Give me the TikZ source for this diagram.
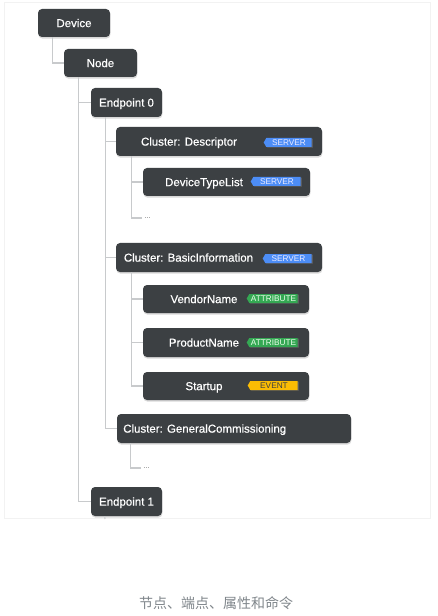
\documentclass[tikz,border=0pt]{standalone}
\usepackage{fontspec}
\setmainfont{Liberation Sans}
\newfontfamily\boxfont{Liberation Sans}[FakeBold=0.6]
\newfontfamily\cjkfont{Noto Sans CJK SC}
\usetikzlibrary{shapes.symbols,shadows}
\definecolor{boxgray}{HTML}{3C4043}
\definecolor{linegray}{HTML}{C8CACC}
\definecolor{tagblue}{HTML}{4C8DF6}
\definecolor{taggreen}{HTML}{34A853}
\definecolor{tagyellow}{HTML}{FBBC04}
\definecolor{captiongray}{HTML}{80868B}
\begin{document}
\begin{tikzpicture}[x=0.75pt,y=-0.75pt,
  box/.style={rectangle, rounded corners=3pt, fill=boxgray, inner sep=0pt,
    drop shadow={opacity=0.3, shadow xshift=0.3pt, shadow yshift=-1.2pt}},
  boxtext/.style={text=white, font=\boxfont\fontsize{8.6}{10}\selectfont,
    text height=6.2pt, text depth=0pt},
  lbl/.style={inner sep=0pt, text=white, font=\boxfont\fontsize{8.6}{10}\selectfont,
    text height=6.2pt, text depth=0pt},
  conn/.style={draw=linegray, line width=0.8pt},
  tag/.style={signal, signal to=west, signal from=nowhere, signal pointer angle=120, inner sep=0pt,
    minimum height=6.75pt, font=\fontsize{6.2}{6.5}\selectfont,
    text height=4.5pt, text depth=0pt,
    drop shadow={opacity=0.45, shadow xshift=0.8pt, shadow yshift=-0.4pt}},
  server/.style={tag, fill=tagblue, text=blue!8},
  attr/.style={tag, fill=taggreen, text=green!8},
  event/.style={tag, fill=tagyellow, text=boxgray},
  dots/.style={anchor=west, inner sep=1.5pt, text=gray, font=\fontsize{6}{6}\selectfont}
]
\useasboundingbox (0,0) rectangle (437,616);
\fill[white] (0,0) rectangle (437,616);
% card
\fill[white, draw=black!5, drop shadow={opacity=0.12, shadow xshift=0pt, shadow yshift=-0.8pt}]
  (4,2) rectangle (430,518);

% boxes
\node[box, boxtext, minimum width=54pt, minimum height=21pt] (dev) at (74,23) {Device};
\node[box, boxtext, minimum width=54.75pt, minimum height=21pt] (nod) at (100.5,63) {Node};
\node[box, boxtext, minimum width=53.25pt, minimum height=21.75pt] (ep0) at (126.5,102.5) {Endpoint 0};

\node[box, minimum width=154.5pt, minimum height=21.75pt] (desc) at (219,141.5) {};
\node[lbl] (desct) at (189,141.5) {Cluster: Descriptor};
\node[server, minimum width=36pt] (desctag) at (289,142.5) {SERVER};

\node[box, minimum width=125.25pt, minimum height=21pt] (dtl) at (226.5,182) {};
\node[lbl] (dtlt) at (204,182) {DeviceTypeList};
\node[server, minimum width=37.5pt] (dtltag) at (277,181.5) {SERVER};
\node[dots] (dots1) at (142,218) {...};

\node[box, minimum width=154.5pt, minimum height=21.75pt] (basic) at (219,257.5) {};
\node[lbl] (basict) at (188.5,257.5) {Cluster: BasicInformation};
\node[server, minimum width=36.75pt] (basictag) at (288.5,258.5) {SERVER};

\node[box, minimum width=124.5pt, minimum height=21pt] (vend) at (226,299) {};
\node[lbl] (vendt) at (204,299) {VendorName};
\node[attr, minimum width=38.25pt] (vendtag) at (273.5,298.5) {ATTRIBUTE};

\node[box, minimum width=124.5pt, minimum height=21.75pt] (prod) at (226,342.5) {};
\node[lbl] (prodt) at (204,342.5) {ProductName};
\node[attr, minimum width=38.25pt] (prodtag) at (273.5,342.5) {ATTRIBUTE};

\node[box, minimum width=124.5pt, minimum height=21pt] (start) at (226,386) {};
\node[lbl] (startt) at (204,386) {Startup};
\node[event, minimum width=37.5pt] (starttag) at (274,385.5) {EVENT};

\node[box, minimum width=175.5pt, minimum height=21.75pt] (gen) at (234,428.5) {};
\node[lbl, anchor=west] (gent) at (123,428.5) {Cluster: GeneralCommissioning};
\node[dots] (dots2) at (141,468) {...};

\node[box, boxtext, minimum width=53.25pt, minimum height=21.75pt] (ep1) at (126.5,501.5) {Endpoint 1};

% connectors
\draw[conn] (dev.south west) ++(15,0) |- (nod.west);
\draw[conn] (nod.south west) ++(15,0) |- (ep0.west);
\draw[conn] (nod.south west) ++(15,0) |- (ep1.west);
\draw[conn] (ep0.south west) ++(15,0) |- (desc.west);
\draw[conn] (ep0.south west) ++(15,0) |- (basic.west);
\draw[conn] (ep0.south west) ++(15,0) |- (gen.west);
\draw[conn] (desc.south west) ++(16,0) |- (dtl.west);
\draw[conn] (desc.south west) ++(16,0) |- (dots1.west);
\draw[conn] (basic.south west) ++(16,0) |- (vend.west);
\draw[conn] (basic.south west) ++(16,0) |- (prod.west);
\draw[conn] (basic.south west) ++(16,0) |- (start.west);
\draw[conn] (gen.south west) ++(14,0) |- (dots2.west);
\coordinate (stub) at (105,519);
\draw[conn] (ep1.south west) ++(14,0) -- (stub);

% caption
\node[text=captiongray, font=\cjkfont\fontsize{10.5}{12}\selectfont] (cap) at (216,603) {节点、端点、属性和命令};
\end{tikzpicture}
\end{document}
